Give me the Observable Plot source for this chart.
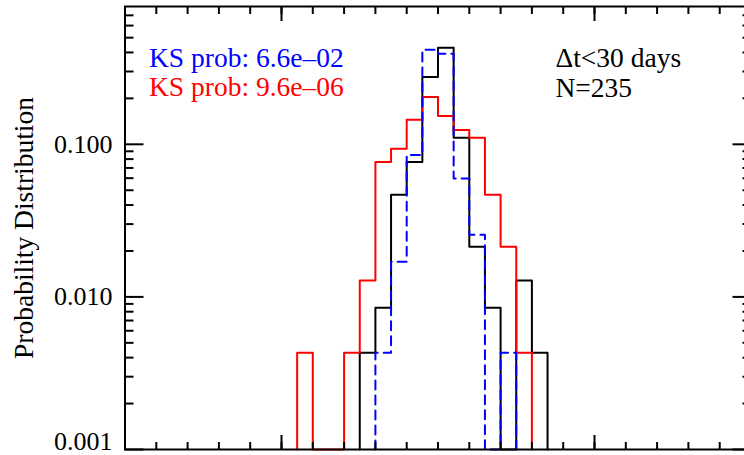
<!DOCTYPE html>
<html><head><meta charset="utf-8">
<script src="https://cdn.jsdelivr.net/npm/d3@7"></script>
<script src="https://cdn.jsdelivr.net/npm/@observablehq/plot@0.6"></script>
<style>
html,body{margin:0;padding:0;background:#fff;overflow:hidden;}
#chart svg{display:block;font-family:"Liberation Serif",serif !important;}
#chart svg text{font-family:"Liberation Serif",serif !important;}
</style></head><body><div id="chart"></div>
<script>
// Bin left edges (bin width 0.05)
const binStarts = [-0.45,-0.40,-0.35,-0.30,-0.25,-0.20,-0.15,-0.10,-0.05,0.00,0.05,0.10,0.15,0.20,0.25,0.30];
const binWidth = 0.05;
// Probability per bin
const blackProb = [0,0,0,0,0.0043,0.0085,0.0468,0.0766,0.2766,0.4298,0.1106,0.0213,0.0085,0,0.0128,0.0043];
const blueProb  = [0,0,0,0,0,0.0043,0.0170,0.0851,0.4170,0.3915,0.0596,0.0255,0,0.0043,0,0];
const redProb   = [0.0043,0,0,0.0043,0.0128,0.0766,0.0936,0.1447,0.2043,0.1532,0.1240,0.1106,0.0468,0.0213,0.0043,0];

const yMajorTicks = [0.001, 0.01, 0.1];
const yMinorTicks = [0.002,0.003,0.004,0.005,0.006,0.007,0.008,0.009,
                     0.02,0.03,0.04,0.05,0.06,0.07,0.08,0.09,
                     0.2,0.3,0.4,0.5,0.6,0.7];
const xMajorTicks = [-0.5, 0.5];
const xMinorTicks = [-0.9,-0.8,-0.7,-0.6,-0.5,-0.4,-0.3,-0.2,-0.1,0,0.1,0.2,0.3,0.4,0.5,0.6,0.7,0.8,0.9];
const yTickLabelsUpper = [0.01, 0.1];
const yTickLabelsLower = [0.001];

const ksBlue = "KS prob: 6.6e\u201302";
const ksRed  = "KS prob: 9.6e\u201306";
const dtText = "\u0394t<30 days";
const nText  = "N=235";
const yLabel = "Probability Distribution";

const yMin = 0.001, yMax = 0.8;

function steps(vals) {
  let first = vals.findIndex(v => v > 0);
  let last = vals.length - 1 - [...vals].reverse().findIndex(v => v > 0);
  const pts = [];
  pts.push({x: binStarts[first], p: yMin});
  for (let i = first; i <= last; i++) {
    const v = Math.max(vals[i], yMin);
    pts.push({x: binStarts[i], p: v});
    pts.push({x: binStarts[i] + binWidth, p: v});
  }
  pts.push({x: binStarts[last] + binWidth, p: yMin});
  return pts;
}

const W = 744, H = 455;
const mL = 124.5, mR = -6.5, mT = 6, mB = 6;
const serif = "Liberation Serif";

const chart = Plot.plot({
  width: W, height: H,
  marginLeft: mL, marginRight: mR, marginTop: mT, marginBottom: mB,
  style: {fontFamily: serif, fontSize: "26px", color: "black", background: "white"},
  x: {domain: [-1, 1], axis: null},
  y: {type: "log", domain: [yMin, yMax], axis: null},
  marks: [
    Plot.line(steps(blackProb), {x: "x", y: "p", stroke: "black", strokeWidth: 2}),
    Plot.line(steps(redProb), {x: "x", y: "p", stroke: "#ff0000", strokeWidth: 2}),
    Plot.line(steps(blueProb), {x: "x", y: "p", stroke: "#0000ff", strokeWidth: 2, strokeDasharray: "9,6"}),
    Plot.frame({strokeWidth: 2}),
    // Y ticks (inward) left & right
    Plot.axisY(yMajorTicks, {anchor: "left", tickSize: -19, fill: "none", label: null, strokeWidth: 2}),
    Plot.axisY(yMinorTicks, {anchor: "left", tickSize: -9, fill: "none", label: null, strokeWidth: 2}),
    Plot.axisY(yMajorTicks, {anchor: "right", tickSize: -19, fill: "none", label: null, strokeWidth: 2}),
    Plot.axisY(yMinorTicks, {anchor: "right", tickSize: -9, fill: "none", label: null, strokeWidth: 2}),
    // X ticks (inward) bottom & top
    Plot.axisX(xMinorTicks, {anchor: "bottom", tickSize: -7, fill: "none", label: null, strokeWidth: 2}),
    Plot.axisX(xMajorTicks, {anchor: "bottom", tickSize: -14, fill: "none", label: null, strokeWidth: 2}),
    Plot.axisX(xMinorTicks, {anchor: "top", tickSize: -7, fill: "none", label: null, strokeWidth: 2}),
    Plot.axisX(xMajorTicks, {anchor: "top", tickSize: -14, fill: "none", label: null, strokeWidth: 2}),
    // Y tick labels
    Plot.axisY(yTickLabelsUpper, {anchor: "left", tickSize: 0, tickPadding: 12.5, tickFormat: d3.format(".3f"), label: null, fontSize: 26, fontFamily: serif}),
    Plot.axisY(yTickLabelsLower, {anchor: "left", tickSize: 0, tickPadding: 12.5, tickFormat: d3.format(".3f"), label: null, fontSize: 26, fontFamily: serif, dy: -8}),
    // Y axis title
    Plot.text([yLabel], {frameAnchor: "left", dx: 32 - mL, rotate: -90, lineAnchor: "bottom", textAnchor: "middle", fontSize: 27.5, fontFamily: serif, fill: "black"}),
    // Annotations
    Plot.text([ksBlue], {frameAnchor: "top-left", dx: 24, dy: 60.7, lineAnchor: "bottom", textAnchor: "start", fontSize: 27.5, fontFamily: serif, fill: "#0000ff"}),
    Plot.text([ksRed], {frameAnchor: "top-left", dx: 24, dy: 89, lineAnchor: "bottom", textAnchor: "start", fontSize: 27.5, fontFamily: serif, fill: "#ff0000"}),
    Plot.text([dtText], {frameAnchor: "top-left", dx: 430.5, dy: 60.7, lineAnchor: "bottom", textAnchor: "start", fontSize: 27.5, fontFamily: serif, fill: "black"}),
    Plot.text([nText], {frameAnchor: "top-left", dx: 430.5, dy: 90.7, lineAnchor: "bottom", textAnchor: "start", fontSize: 27.5, fontFamily: serif, fill: "black"})
  ]
});
document.getElementById("chart").appendChild(chart);
</script>
</body></html>
